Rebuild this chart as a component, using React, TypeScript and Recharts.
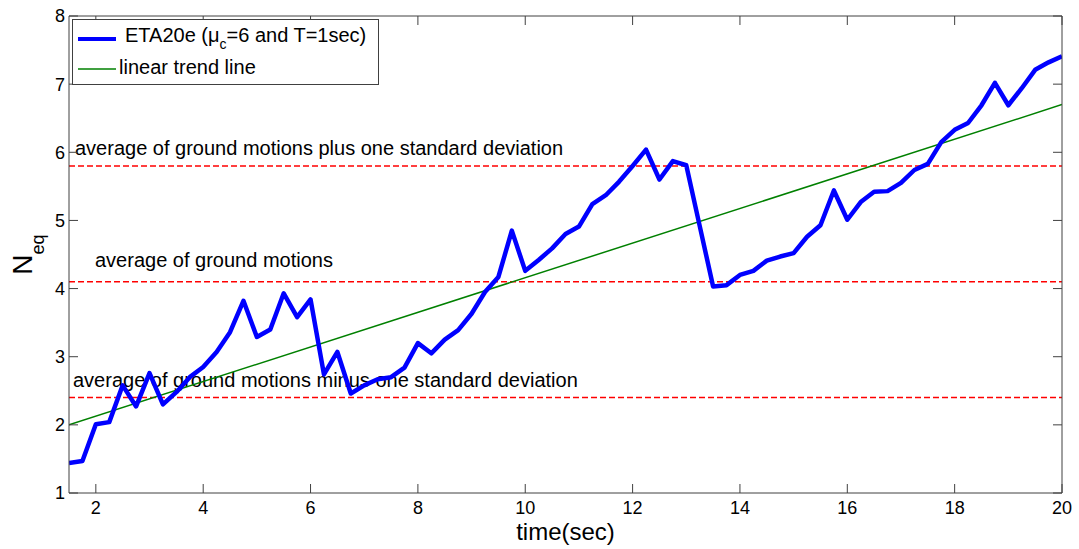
import React from "react";
import { LineChart, Line, XAxis, YAxis, ReferenceLine, Legend } from "recharts";

const time = [
	1.5, 1.75, 2, 2.25, 2.5, 2.75, 3, 3.25, 3.5, 3.75, 4, 4.25, 4.5, 4.75, 5, 5.25,
	5.5, 5.75, 6, 6.25, 6.5, 6.75, 7, 7.25, 7.5, 7.75, 8, 8.25, 8.5, 8.75, 9, 9.25,
	9.5, 9.75, 10, 10.25, 10.5, 10.75, 11, 11.25, 11.5, 11.75, 12, 12.25, 12.5,
	12.75, 13, 13.25, 13.5, 13.75, 14, 14.25, 14.5, 14.75, 15, 15.25, 15.5, 15.75,
	16, 16.25, 16.5, 16.75, 17, 17.25, 17.5, 17.75, 18, 18.25, 18.5, 18.75, 19,
	19.25, 19.5, 19.75, 20
];

const eta20e = [
	1.44, 1.47, 2.01, 2.04, 2.58, 2.27, 2.76, 2.3, 2.48, 2.7, 2.85, 3.07, 3.36, 3.82,
	3.29, 3.4, 3.93, 3.58, 3.84, 2.74, 3.07, 2.46, 2.58, 2.67, 2.7, 2.84, 3.2, 3.05,
	3.25, 3.39, 3.63, 3.95, 4.17, 4.85, 4.26, 4.42, 4.59, 4.8, 4.91, 5.24, 5.37, 5.57,
	5.8, 6.04, 5.6, 5.87, 5.81, 4.92, 4.03, 4.05, 4.2, 4.26, 4.41, 4.47, 4.52, 4.76,
	4.93, 5.44, 5.01, 5.27, 5.42, 5.43, 5.55, 5.74, 5.83, 6.15, 6.33, 6.43, 6.69,
	7.02, 6.69, 6.94, 7.21, 7.32, 7.41
];

const trendTime = [1.5, 20];
const trendValue = [2.0, 6.7];

const xTicks = [2, 4, 6, 8, 10, 12, 14, 16, 18, 20];
const yTicks = [1, 2, 3, 4, 5, 6, 7, 8];

const refLevels = [5.8, 4.1, 2.4];
const refTexts = [
	"average of ground motions plus one standard deviation",
	"average of ground motions",
	"average of ground motions minus one standard deviation"
];

const etaData = time.map((t, i) => ({ t, v: eta20e[i] }));
const trendData = trendTime.map((t, i) => ({ t, v: trendValue[i] }));

const FONT = '"Liberation Sans", Arial, sans-serif';
const AXIS = "#404040";
// label offsets from left end of each reference line
const refOffsets = [
	[6, -11],
	[26, -15],
	[4, -11]
];

const refLabel = (text: string, dx: number, dy: number) => (props: any) => {
	const vb = props.viewBox;
	return (
		<text x={vb.x + dx} y={vb.y + dy} fontSize={20} fontFamily={FONT} fill="#000">
			{text}
		</text>
	);
};

const xLabel = (props: any) => {
	const vb = props.viewBox;
	return (
		<text
			x={vb.x + vb.width / 2}
			y={vb.y + 47}
			textAnchor="middle"
			fontSize={24}
			fontFamily={FONT}
			fill="#000"
		>
			time(sec)
		</text>
	);
};

const yLabel = (props: any) => {
	const vb = props.viewBox;
	const cx = 32;
	const cy = vb.y + vb.height / 2;
	return (
		<text
			x={cx}
			y={cy}
			transform={`rotate(-90, ${cx}, ${cy})`}
			textAnchor="middle"
			fontFamily={FONT}
			fill="#000"
		>
			<tspan fontSize={28}>N</tspan>
			<tspan fontSize={18} dy={12}>
				eq
			</tspan>
		</text>
	);
};

const renderLegend = () => (
	<div
		style={{
			width: 305,
			height: 64,
			border: `1px solid ${AXIS}`,
			background: "#fff",
			fontFamily: FONT,
			fontSize: 20,
			color: "#000",
			position: "relative"
		}}
	>
		<svg width={50} height={64} style={{ position: "absolute", left: 0, top: 0 }}>
			<line x1={5} x2={43} y1={19} y2={19} stroke="#0000ff" strokeWidth={4} />
			<line x1={5} x2={43} y1={49} y2={49} stroke="#008000" strokeWidth={1.5} />
		</svg>
		<div style={{ position: "absolute", left: 52, top: 4, whiteSpace: "nowrap" }}>
			ETA20e (μ
			<span style={{ fontSize: 14, position: "relative", top: 7 }}>c</span>
			=6 and T=1sec)
		</div>
		<div style={{ position: "absolute", left: 46, top: 36, whiteSpace: "nowrap" }}>
			linear trend line
		</div>
	</div>
);

export default function App() {
	const tickStyle = { fontSize: 18, fontFamily: FONT, fill: "#000" };
	return (
		<div style={{ position: "absolute", left: 0, top: 0, background: "#fff" }}>
			<LineChart
				width={1079}
				height={549}
				margin={{ top: 15, right: 16, bottom: 16, left: 9 }}
			>
				<XAxis
					dataKey="t"
					type="number"
					domain={[1.5, 20]}
					ticks={xTicks}
					allowDataOverflow
					height={40}
					stroke={AXIS}
					tickSize={-9}
					tickMargin={17}
					tick={tickStyle}
					label={xLabel}
				/>
				<XAxis
					xAxisId="top"
					orientation="top"
					dataKey="t"
					type="number"
					domain={[1.5, 20]}
					ticks={xTicks}
					allowDataOverflow
					height={1}
					stroke={AXIS}
					tickSize={-9}
					tickFormatter={() => ""}
				/>
				<YAxis
					type="number"
					domain={[1, 8]}
					ticks={yTicks}
					allowDataOverflow
					width={60}
					stroke={AXIS}
					tickSize={-9}
					tickMargin={13}
					tick={tickStyle}
					label={yLabel}
				/>
				<YAxis
					yAxisId="right"
					orientation="right"
					type="number"
					domain={[1, 8]}
					ticks={yTicks}
					allowDataOverflow
					width={1}
					stroke={AXIS}
					tickSize={-9}
					tickFormatter={() => ""}
				/>
				{refLevels.map((lv, i) => (
					<ReferenceLine
						key={lv}
						y={lv}
						stroke="#ff0000"
						strokeWidth={1.5}
						strokeDasharray="6 3"
						label={refLabel(refTexts[i], refOffsets[i][0], refOffsets[i][1])}
					/>
				))}
				<Line
					data={trendData}
					dataKey="v"
					stroke="#008000"
					strokeWidth={1.5}
					dot={false}
					isAnimationActive={false}
					name="linear trend line"
				/>
				<Line
					data={etaData}
					dataKey="v"
					stroke="#0000ff"
					strokeWidth={4.5}
					strokeLinejoin="round"
					dot={false}
					isAnimationActive={false}
					name="ETA20e"
				/>
				<Legend
					layout="vertical"
					align="center"
					verticalAlign="middle"
					content={renderLegend}
					wrapperStyle={{ left: 72, top: 19, width: 307, height: 66 }}
				/>
			</LineChart>
		</div>
	);
}
